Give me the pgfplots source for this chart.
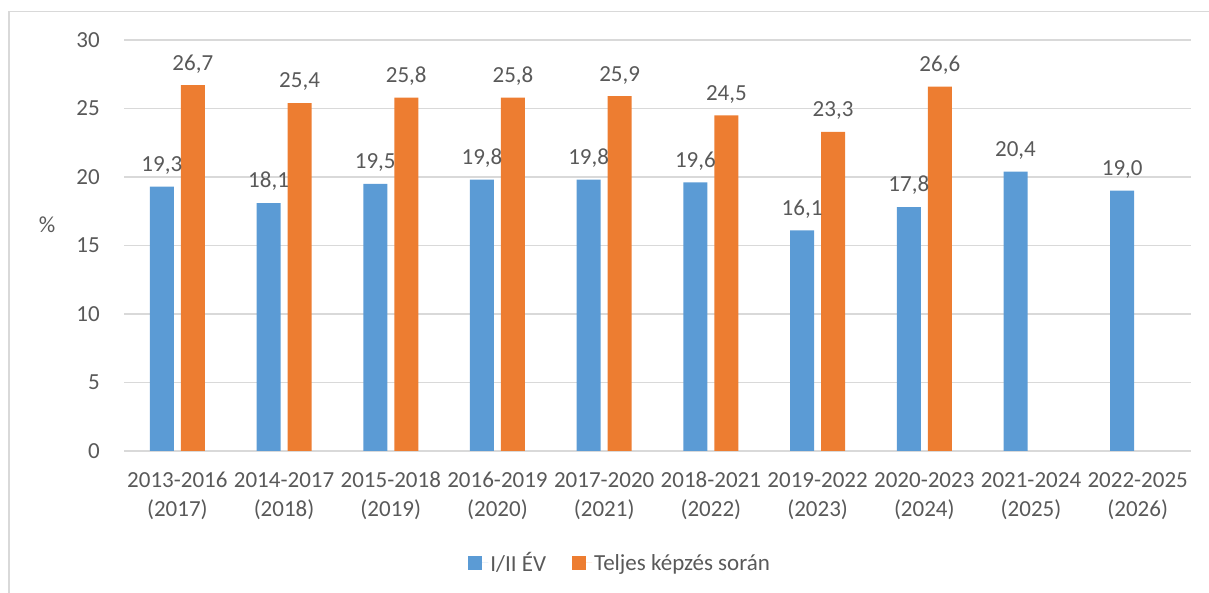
\documentclass[border=0pt]{standalone}
\usepackage{fontspec}
\setmainfont{Carlito}
\usepackage{pgfplots}
\pgfplotsset{compat=1.18}
\definecolor{cblue}{HTML}{5B9BD5}
\definecolor{corange}{HTML}{ED7D31}
\definecolor{txt}{HTML}{595959}
\definecolor{gridc}{HTML}{D9D9D9}
\newcommand{\chartfont}{\fontsize{23}{29}\selectfont}
\begin{document}
\begin{tikzpicture}[x=1pt,y=1pt]
\path[use as bounding box] (0,0) rectangle (1209,593);
\draw[gridc, line width=1.2pt] (9,-20) rectangle (1240,581.5);
\node[txt, font=\chartfont] at (47,368) {\%};
\begin{axis}[
    at={(124pt,142pt)}, anchor=south west,
    scale only axis,
    width=1067pt, height=411pt,
    ybar=7pt, bar width=24pt,
    xmin=-0.5, xmax=9.5,
    ymin=0, ymax=30,
    ytick={0,5,...,30},
    xtick=data,
    xticklabels={{2013-2016\\(2017)},{2014-2017\\(2018)},{2015-2018\\(2019)},{2016-2019\\(2020)},{2017-2020\\(2021)},{2018-2021\\(2022)},{2019-2022\\(2023)},{2020-2023\\(2024)},{2021-2024\\(2025)},{2022-2025\\(2026)}},
    axis lines*=left,
    axis line style={draw=none},
    major tick length=0pt,
    ymajorgrids,
    grid style={gridc, line width=1.2pt},
    /pgf/number format/assume math mode=true,
    ticklabel style={font=\chartfont, text=txt},
    yticklabel style={inner sep=0pt, xshift=-24pt},
    xticklabel style={inner sep=0pt, yshift=-21pt, align=center},
    nodes near coords,
    nodes near coords style={font=\chartfont, text=txt, inner sep=0pt, yshift=12pt,
      /pgf/number format/.cd, fixed, fixed zerofill, precision=1, use comma},
    legend style={at={(0.465,-0.2725)}, anchor=center, draw=none, fill=none,
      legend columns=2, font=\chartfont, text=txt,
      /tikz/every even column/.append style={column sep=24pt}},
    legend image code/.code={\fill[#1] (0pt,-7pt) rectangle (14pt,7pt); \path (0pt,0pt) -- (20pt,0pt);},
]
\addplot[fill=cblue, draw=none] coordinates {
    (0,19.3) (1,18.1) (2,19.5) (3,19.8) (4,19.8) (5,19.6) (6,16.1) (7,17.8) (8,20.4) (9,19.0)
};
\addplot[fill=corange, draw=none] coordinates {
    (0,26.7) (1,25.4) (2,25.8) (3,25.8) (4,25.9) (5,24.5) (6,23.3) (7,26.6)
};
\legend{I/II ÉV, Teljes képzés során}
\end{axis}
\end{tikzpicture}
\end{document}
